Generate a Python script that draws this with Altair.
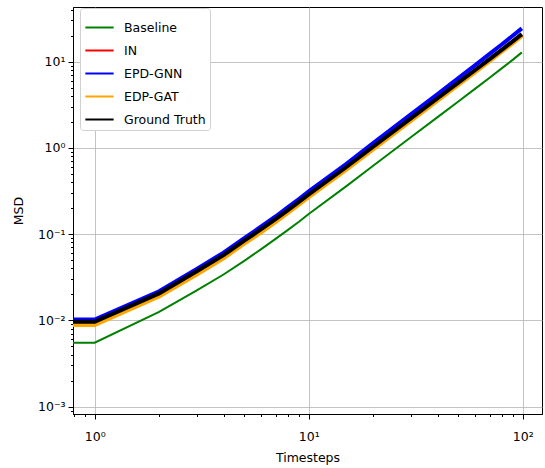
import altair as alt
import numpy as np
import pandas as pd

# ---- data ----
timesteps = [0, 1, 2, 3, 4, 5, 6, 7, 8, 9, 10, 15, 20, 30, 40, 50, 60, 70, 80, 90, 99]
baseline = [0.0055, 0.0055, 0.0125, 0.0222, 0.034, 0.049, 0.067, 0.088, 0.112, 0.139, 0.171, 0.36, 0.62, 1.33, 2.27, 3.45, 4.86, 6.5, 8.4, 10.55, 12.8]
in_model = [0.0094, 0.0094, 0.0201, 0.0363, 0.0559, 0.0823, 0.1117, 0.146, 0.186, 0.231, 0.282, 0.588, 1.01, 2.16, 3.68, 5.59, 7.84, 10.5, 13.5, 17.0, 20.4]
epd_gnn = [0.0102, 0.0102, 0.0217, 0.0394, 0.061, 0.0899, 0.1226, 0.160, 0.205, 0.255, 0.3125, 0.654, 1.133, 2.44, 4.21, 6.44, 9.12, 12.3, 15.9, 20.1, 24.3]
edp_gat = [0.0088, 0.0088, 0.0189, 0.034, 0.0525, 0.0775, 0.105, 0.138, 0.176, 0.219, 0.268, 0.56, 0.96, 2.06, 3.53, 5.36, 7.55, 10.1, 13.1, 16.4, 19.8]
ground_truth = [0.0096, 0.0096, 0.0205, 0.037, 0.057, 0.084, 0.114, 0.149, 0.19, 0.236, 0.288, 0.60, 1.03, 2.2, 3.76, 5.7, 8.0, 10.7, 13.8, 17.3, 20.8]

names = ["Baseline", "IN", "EPD-GNN", "EDP-GAT", "Ground Truth"]
colors = ["#008000", "#ff0000", "#0000ff", "#ffa500", "#000000"]
widths = [2, 4, 4, 4, 4]
values = [baseline, in_model, epd_gnn, edp_gat, ground_truth]

x_ticks = [0.8, 0.9, 1, 2, 3, 4, 5, 6, 7, 8, 9, 10, 20, 30, 40, 50, 60, 70, 80, 90, 100]
y_ticks = [0.0009, 0.001, 0.002, 0.003, 0.004, 0.005, 0.006, 0.007, 0.008, 0.009,
           0.01, 0.02, 0.03, 0.04, 0.05, 0.06, 0.07, 0.08, 0.09,
           0.1, 0.2, 0.3, 0.4, 0.5, 0.6, 0.7, 0.8, 0.9,
           1, 2, 3, 4, 5, 6, 7, 8, 9, 10, 20, 30, 40]

rows = []
for n, vals in zip(names, values):
    for t, v in zip(timesteps, vals):
        rows.append({"model": n, "t": t, "msd": v})
df = pd.DataFrame(rows)
# t = 0 cannot sit on a log axis: clip it far to the left, as matplotlib does
df["t_plot"] = np.where(df["t"] > 0, df["t"], 0.01)

E = "round(log(datum.value)/LN10)"
MAJOR = f"abs(log(datum.value)/LN10 - {E}) < 0.001"
SUP = {-3: "⁻³", -2: "⁻²", -1: "⁻¹", 0: "⁰", 1: "¹", 2: "²"}
chain = "''"
for k, s in SUP.items():
    chain = f"({E} == {k} ? '10{s}' : {chain})"
LABEL = f"{MAJOR} ? {chain} : ''"

FONT = "DejaVu Sans"

def axis(label_pad, title_pad):
    return alt.Axis(
        labelExpr=LABEL,
        labelOverlap=False,
        labelFlush=False,
        labelFont=FONT,
        labelFontSize=12.5,
        labelColor="black",
        labelPadding=label_pad,
        titleFont=FONT,
        titleFontSize=12.5,
        titleFontWeight="normal",
        titleColor="black",
        titlePadding=title_pad,
        domainColor="black",
        tickColor="black",
        tickSize={"condition": {"test": MAJOR, "value": 5}, "value": 2.5},
        gridColor="#b0b0b0",
        gridWidth=1,
        gridOpacity={"condition": {"test": MAJOR, "value": 0.75}, "value": 0},
    )

x_axis = axis(11, 9)
x_axis["values"] = x_ticks
y_axis = axis(3, 12)
y_axis["values"] = y_ticks

legend = alt.Legend(
    title=None,
    orient="none",
    legendX=7,
    legendY=1,
    symbolType="stroke",
    symbolStrokeWidth=2,
    symbolSize=800,
    labelFont=FONT,
    labelFontSize=12.5,
    labelColor="black",
    fillColor="white",
    strokeColor="#d0d0d0",
    cornerRadius=3,
    padding=4,
    rowPadding=1,
    labelOffset=9,
)

color = alt.Color("model:N", scale=alt.Scale(domain=names, range=colors), legend=legend)
x = alt.X("t_plot:Q", title="Timesteps",
          scale=alt.Scale(type="log", domain=[0.792, 123], nice=False), axis=x_axis)
y = alt.Y("msd:Q", title="MSD",
          scale=alt.Scale(type="log", domain=[0.00082, 43], nice=False), axis=y_axis)

layers = []
for n, w in zip(names, widths):
    layers.append(
        alt.Chart(df)
        .transform_filter(alt.datum.model == n)
        .mark_line(strokeWidth=w, clip=True)
        .encode(x=x, y=y, color=color)
    )

chart = (
    alt.layer(*layers)
    .properties(
        width=469,
        height=407,
        autosize=alt.AutoSizeParams(type="none"),
        padding={"left": 73, "top": 7, "right": 3, "bottom": 54},
    )
    .configure_view(stroke="black", strokeWidth=1)
)

chart.save("out.html", embed_options={"renderer": "svg", "actions": False})
